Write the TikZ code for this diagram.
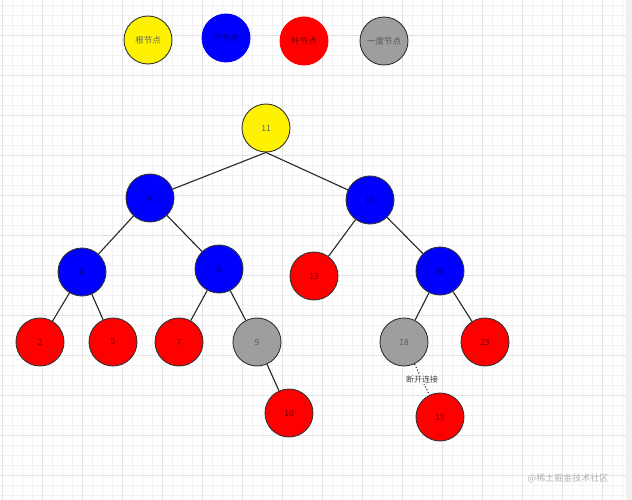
\documentclass[tikz,border=0pt]{standalone}
\usepackage{fontspec}
\setmainfont{Noto Sans CJK SC}
\usetikzlibrary{positioning}
\tikzset{%
  bnode/.style     = {draw=black!80, line width=0.9pt, circle, minimum size=48pt,
    inner sep=0pt, font=\fontsize{8.5}{10}\selectfont},
  rootnode/.style  = {bnode, fill=yellow, text=black!60}, % root
  childnode/.style = {bnode, fill=blue, text=blue!45!black}, % child
  leafnode/.style  = {bnode, fill=red, text=red!45!black}, % leaf
  onenode/.style   = {bnode, fill=black!38, text=black!65}, % one child
  edge/.style      = {draw=black!85, line width=1.1pt},
  cutlabel/.style  = {fill=white, inner sep=1pt, text=black!75, font=\fontsize{8}{9}\selectfont}
}

\begin{document}
\begin{tikzpicture}[x=1pt, y=-1pt]

  % background grid
  \useasboundingbox (0,0) rectangle (632,500);
  \fill[white] (0,0) rectangle (632,500);
  \begin{scope}
    \clip (0,0) rectangle (632,500);
    \begin{scope}[shift={(2,-5)}]
      \draw[black!5, line width=0.3pt, step=10pt] (-40,-40) grid (680,540);
      \draw[black!11, line width=0.4pt, step=40pt] (-40,-40) grid (680,540);
    \end{scope}
  \end{scope}
  \fill[black!6] (626,0) rectangle (632,500);

  % legend
  \draw node at (148,40) [rootnode] (lroot) {根节点};
  \draw node at (226,38) [childnode, draw=blue] (lchild) {子节点};
  \draw node at (304,41) [leafnode, draw=red] (lleaf) {叶节点};
  \draw node at (384,41) [onenode] (lone) {一度节点};

  % tree
  \draw node at (266,128) [rootnode] (n11) {11};
  \draw node at (150,198) [childnode] (n6) {6};
  \draw node at (370,200) [childnode] (n17) {17};

  \draw node at (82,272) [childnode] (n4) {4};
  \draw node at (219,269) [childnode] (n8) {8};
  \draw node at (314,276) [leafnode] (n13) {13};
  \draw node at (440,271) [childnode] (n20) {20};

  \draw node at (40,342) [leafnode] (n2) {2};
  \draw node at (113,342) [leafnode] (n5) {5};
  \draw node at (179,342) [leafnode] (n7) {7};
  \draw node at (257,342) [onenode] (n9) {9};
  \draw node at (404,342) [onenode] (n18) {18};
  \draw node at (485,342) [leafnode] (n23) {23};

  \draw node at (289,413) [leafnode] (n10) {10};
  \draw node at (440,417) [leafnode] (n19) {19};

  \draw[edge] (n11.south) -- (n6);
  \draw[edge] (n11.south) -- (n17);
  \draw[edge] (n6) -- (n4);
  \draw[edge] (n6) -- (n8);
  \draw[edge] (n4) -- (n2);
  \draw[edge] (n4) -- (n5);
  \draw[edge] (n8) -- (n7);
  \draw[edge] (n8) -- (n9);
  \draw[edge] (n9) -- (n10);
  \draw[edge] (n17) -- (n13);
  \draw[edge] (n17) -- (n20);
  \draw[edge] (n20) -- (n18);
  \draw[edge] (n20) -- (n23);
  \draw[edge, dotted, line width=1.1pt] (n18) -- node[cutlabel] {断开连接} (n19);

  % watermark
  \node[text=black!30, font=\fontsize{9}{10}\selectfont] (mark) at (568,478) {@稀土掘金技术社区};

\end{tikzpicture}
\end{document}
